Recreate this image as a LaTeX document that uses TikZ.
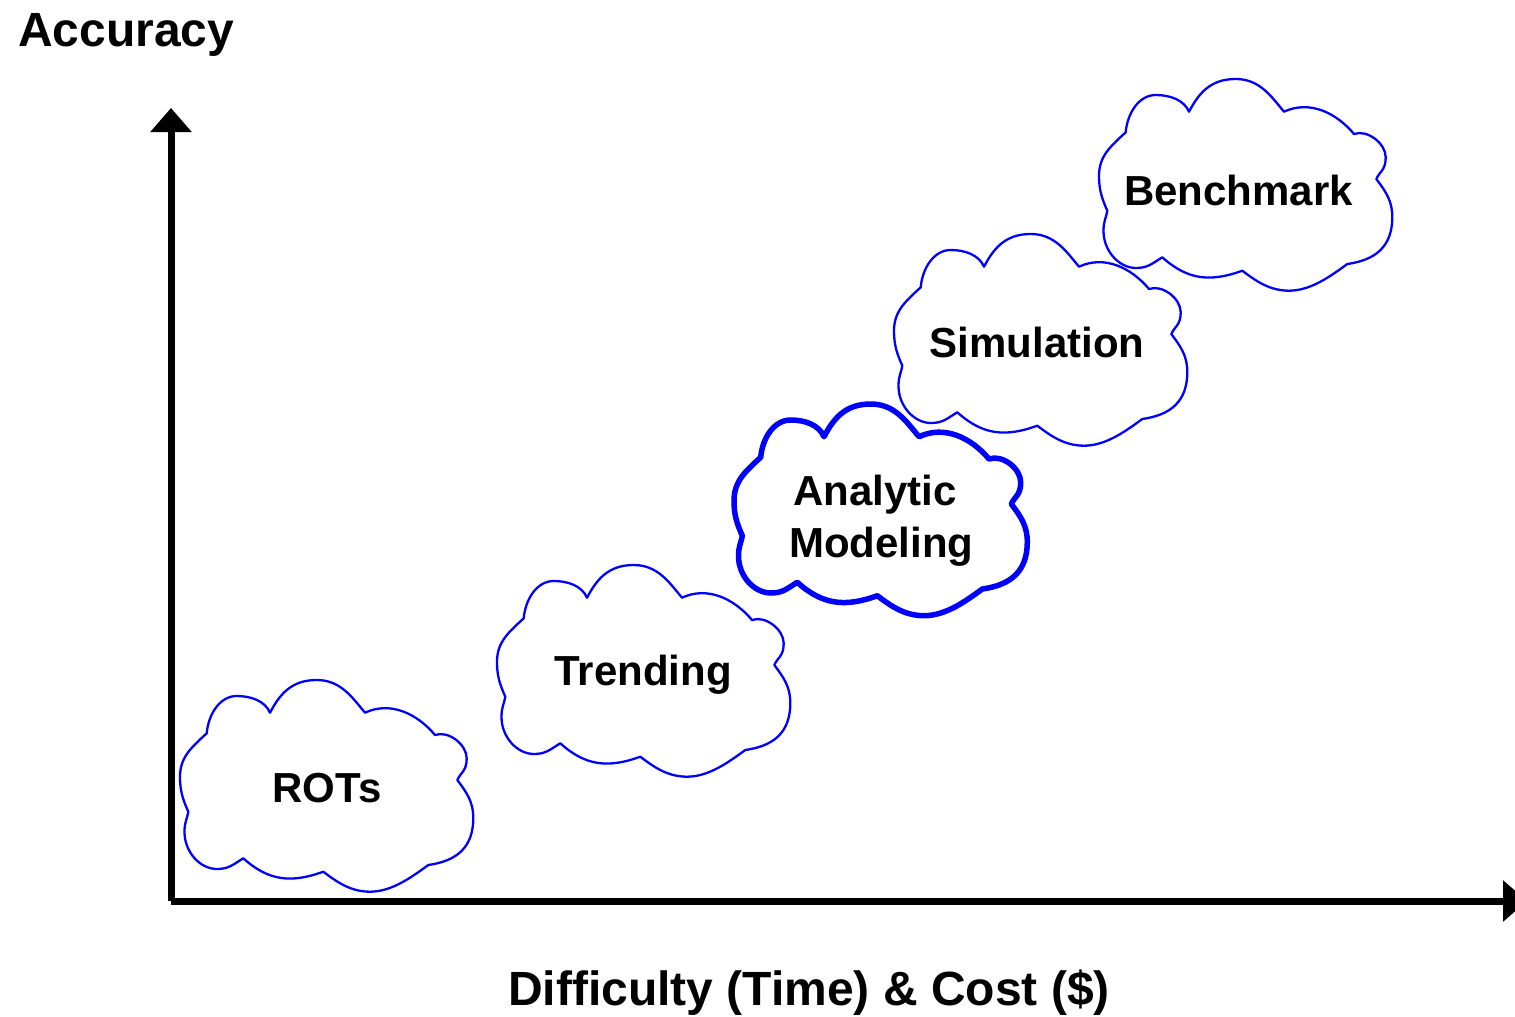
\documentclass[tikz,border=0pt]{standalone}
\usepackage{fontspec}
\setmainfont{Liberation Sans}
\usetikzlibrary{arrows.meta}
\definecolor{cloudblue}{RGB}{0,0,255}
\tikzset{
 cloudshape/.pic={
  \draw[pic actions]
   (27.7,53.3) .. controls +(85:19pt) and +(180:17pt) .. (57.7,16)
   .. controls +(0:14pt) and +(113:13pt) .. (91,32.7)
   .. controls +(62:20pt) and +(180:26pt) .. (137.7,0)
   .. controls +(0:24pt) and +(130:20pt) .. (186,32.7)
   .. controls +(25:28pt) and +(130:28pt) .. (256,55)
   .. controls +(20:14pt) and +(90:14pt) .. (287.7,78.3)
   .. controls +(-90:13pt) and +(67:8pt) .. (278.3,100)
   .. controls +(-53:16pt) and +(90:16pt) .. (294.3,138)
   .. controls +(-90:30pt) and +(8:28pt) .. (249.3,185)
   .. controls +(216:20pt) and +(0:22pt) .. (191,211.7)
   .. controls +(180:20pt) and +(-37:16pt) .. (144.3,191.7)
   .. controls +(200:34pt) and +(-42:34pt) .. (64.3,178.3)
   .. controls +(211:12pt) and +(0:12pt) .. (38,189)
   .. controls +(180:17pt) and +(-90:20pt) .. (5.5,152)
   .. controls +(90:10pt) and +(260:8pt) .. (9.3,131.7)
   .. controls +(114:14pt) and +(-90:14pt) .. (1,96.7)
   .. controls +(90:20pt) and +(223:20pt) .. (27.7,53.3)
   -- cycle;
 },
 cloudthin/.style={draw=cloudblue, line width=2.3pt, line join=round},
 cloudthick/.style={draw=cloudblue, line width=5.5pt, line join=round},
 axis/.style={line width=7pt, -{Triangle[length=24pt,width=40pt]}},
 lbl/.style={font=\fontsize{42}{50}\selectfont\bfseries, inner sep=0pt, anchor=base},
 axlbl/.style={font=\fontsize{48}{56}\selectfont\bfseries, inner sep=0pt},
}
\begin{document}
\begin{tikzpicture}[x=1pt, y=-1pt]
\useasboundingbox (0,0) rectangle (1515,1017);
% axes
\coordinate (origin) at (171,901);
\coordinate (ytip) at (171,108);
\coordinate (xtip) at (1527,901);
\draw[axis] (origin) -- (ytip);
\draw[axis] (origin) -- (xtip);
\node[axlbl, anchor=base west] (acc) at (18,46) {Accuracy};
\node[axlbl, anchor=base] (dc) at (809,1005) {Difficulty (Time) \& Cost (\$)};
% clouds
\pic[cloudthin] (c1) at (179,680) {cloudshape};
\pic[cloudthin] (c2) at (496,565) {cloudshape};
\pic[cloudthick] (c3) at (733,404) {cloudshape};
\pic[cloudthin] (c4) at (893,234) {cloudshape};
\pic[cloudthin] (c5) at (1098,79) {cloudshape};
% labels
\node[lbl] (rots) at (327,802) {ROTs};
\node[lbl] (trend) at (643,685) {Trending};
\node[lbl, anchor=base west] (anal) at (793,505) {Analytic};
\node[lbl, anchor=base west] (model) at (789,557) {Modeling};
\node[lbl] (sim) at (1037,357) {Simulation};
\node[lbl] (bench) at (1238.5,205) {Benchmark};
\end{tikzpicture}
\end{document}
